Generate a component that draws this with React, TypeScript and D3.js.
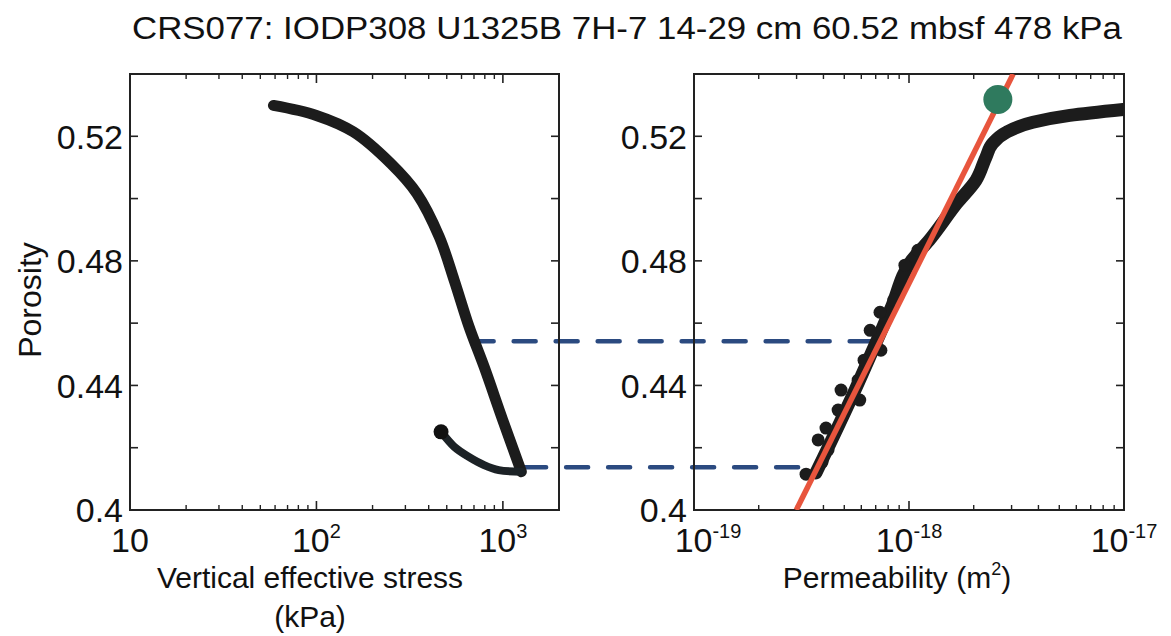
import React from "react";
import * as d3 from "d3";

// ---- data ----
const titleText = "CRS077: IODP308 U1325B 7H-7 14-29 cm 60.52 mbsf 478 kPa";

const loadingStress = [58.8, 99.9, 158, 251, 346, 456, 548, 659, 793, 998, 1256];
const loadingPorosity = [0.5299, 0.5267, 0.5214, 0.5112, 0.5016, 0.4877, 0.4738, 0.4588, 0.446, 0.4289, 0.4123];
const unloadingStress = [1256, 950, 793, 650, 548, 466];
const unloadingPorosity = [0.4123, 0.4128, 0.4144, 0.4172, 0.4203, 0.4251];

const permK = [3.69e-19, 5.61e-19, 7.1e-19, 8.25e-19, 1.03e-18, 1.24e-18, 1.67e-18, 2.05e-18, 2.28e-18, 2.45e-18, 2.84e-18, 3.77e-18, 5.6e-18, 9.9e-18];
const permPorosity = [0.4119, 0.4385, 0.4545, 0.4648, 0.4802, 0.4866, 0.4985, 0.5059, 0.5133, 0.5177, 0.5213, 0.5245, 0.5267, 0.5286];
const blobK = [3.32e-19, 3.94e-19, 3.78e-19, 4.11e-19, 4.2e-19, 4.68e-19, 4.83e-19, 5.9e-19, 5.8e-19, 6.18e-19, 7.4e-19, 6.6e-19, 7.33e-19, 8.5e-19, 9.57e-19, 1.1e-18];
const blobPorosity = [0.4115, 0.4154, 0.4225, 0.4263, 0.4193, 0.4321, 0.4385, 0.4353, 0.4417, 0.4481, 0.4513, 0.4577, 0.4635, 0.4674, 0.4786, 0.4834];

const fitK = [2.99e-19, 3.05e-18];
const fitPorosity = [0.4, 0.54];
const insituK = 2.59e-18;
const insituPorosity = 0.5318;

const guidePorosity = [0.4542, 0.4137];
const guideStress = [680, 1300];
const guideK = [6.75e-19, 3.45e-19];

const yTicks = [0.4, 0.42, 0.44, 0.46, 0.48, 0.5, 0.52, 0.54];
const yLabelTicks = [0.4, 0.44, 0.48, 0.52];
const stressMajor = [10, 100, 1000];
const stressMajorLabels = [["10", ""], ["10", "2"], ["10", "3"]];
const permMajor = [1e-19, 1e-18, 1e-17];
const permMajorLabels = [["10", "-19"], ["10", "-18"], ["10", "-17"]];

const FONT = "'Liberation Sans', Arial, Helvetica, sans-serif";

function minorTicks(lo: number, hi: number) {
  const out: number[] = [];
  for (let e = Math.floor(Math.log10(lo)); e < Math.ceil(Math.log10(hi)); e++) {
    for (let m = 2; m <= 9; m++) {
      const v = m * Math.pow(10, e);
      if (v > lo * 1.001 && v < hi * 0.999) out.push(v);
    }
  }
  return out;
}

type PanelProps = {
  x: d3.ScaleLogarithmic<number, number>;
  y: d3.ScaleLinear<number, number>;
  majors: number[];
  majorLabels: string[][];
  firstLabelDx?: number;
};

function Frame({ x, y, majors, majorLabels, firstLabelDx = 0 }: PanelProps) {
  const [x0, x1] = x.range();
  const [y0, y1] = y.range();
  const dom = x.domain();
  const minors = minorTicks(dom[0], dom[1]);
  const fmt = (v: number) => String(+v.toFixed(2));
  return (
    <g>
      <rect x={x0} y={y1} width={x1 - x0} height={y0 - y1} fill="none" stroke="#222" strokeWidth={2} />
      {yTicks.map((t) => (
        <g key={"y" + t}>
          <line x1={x0} x2={x0 + 8} y1={y(t)} y2={y(t)} stroke="#222" strokeWidth={1.6} />
          <line x1={x1} x2={x1 - 8} y1={y(t)} y2={y(t)} stroke="#222" strokeWidth={1.6} />
        </g>
      ))}
      {yLabelTicks.map((t) => (
        <text key={"yl" + t} x={x0 - 7} y={y(t)} dy="0.36em" textAnchor="end" fontSize={34} fontFamily={FONT} fill="#111">
          {fmt(t)}
        </text>
      ))}
      {majors.map((t) => (
        <g key={"xm" + t}>
          <line x1={x(t)} x2={x(t)} y1={y0} y2={y0 - 9} stroke="#222" strokeWidth={1.6} />
          <line x1={x(t)} x2={x(t)} y1={y1} y2={y1 + 9} stroke="#222" strokeWidth={1.6} />
        </g>
      ))}
      {minors.map((t) => (
        <g key={"xn" + t}>
          <line x1={x(t)} x2={x(t)} y1={y0} y2={y0 - 5} stroke="#222" strokeWidth={1.4} />
          <line x1={x(t)} x2={x(t)} y1={y1} y2={y1 + 5} stroke="#222" strokeWidth={1.4} />
        </g>
      ))}
      {majors.map((t, i) => (
        <text key={"xl" + t} x={x(t) + (i === 0 ? firstLabelDx : 0)} y={y0 + 42} textAnchor="middle" fontSize={34} fontFamily={FONT} fill="#111">
          {majorLabels[i][0]}
          {majorLabels[i][1] && (
            <tspan fontSize={20} dy={-14}>
              {majorLabels[i][1]}
            </tspan>
          )}
        </text>
      ))}
    </g>
  );
}

export default function App() {
  const W = 1171;
  const H = 636;
  const y = d3.scaleLinear().domain([0.4, 0.54]).range([510, 74]);
  const xL = d3.scaleLog().domain([10, 2000]).range([130, 559]);
  const xR = d3.scaleLog().domain([1e-19, 1e-17]).range([694, 1124]);

  const curve = d3.curveCatmullRom.alpha(0.5);
  const lineL = d3.line<number>().x((_, i) => xL(loadingStress[i])).y((d) => y(d)).curve(curve);
  const lineU = d3.line<number>().x((_, i) => xL(unloadingStress[i])).y((d) => y(d)).curve(curve);
  const lineR = d3.line<number>().x((_, i) => xR(permK[i])).y((d) => y(d)).curve(d3.curveMonotoneY);

  return (
    <svg width={W} height={H} style={{ position: "absolute", left: 0, top: 0, background: "#fff" }}>
      <defs>
        <clipPath id="clipR">
          <rect x={694} y={74} width={430} height={436} />
        </clipPath>
      </defs>
      <rect width={W} height={H} fill="#fff" />
      <text x={627} y={39} textAnchor="middle" fontSize={31} fontFamily={FONT} fill="#111" textLength={990} lengthAdjust="spacingAndGlyphs">
        {titleText}
      </text>

      {/* dashed guides */}
      {guidePorosity.map((p, i) => (
        <line
          key={"g" + i}
          x1={xL(guideStress[i])}
          x2={xR(guideK[i])}
          y1={y(p)}
          y2={y(p)}
          stroke="#2b4a80"
          strokeWidth={4.5}
          strokeDasharray="22 20"
          strokeLinecap="round"
        />
      ))}

      <Frame x={xL} y={y} majors={stressMajor} majorLabels={stressMajorLabels} />
      <Frame x={xR} y={y} majors={permMajor} majorLabels={permMajorLabels} firstLabelDx={14} />

      {/* left panel data */}
      <path d={lineL(loadingPorosity) || ""} fill="none" stroke="#1c1c1c" strokeWidth={11} strokeLinecap="round" strokeLinejoin="round" />
      <path d={lineU(unloadingPorosity) || ""} fill="none" stroke="#1c2226" strokeWidth={8} strokeLinecap="round" strokeLinejoin="round" />
      <circle cx={xL(unloadingStress[unloadingStress.length - 1])} cy={y(unloadingPorosity[unloadingPorosity.length - 1])} r={7.5} fill="#111" />

      {/* right panel data */}
      <g clipPath="url(#clipR)">
        <path d={lineR(permPorosity) || ""} fill="none" stroke="#1c1c1c" strokeWidth={13} strokeLinecap="round" strokeLinejoin="round" />
        {blobK.map((k, i) => (
          <circle key={"b" + i} cx={xR(k)} cy={y(blobPorosity[i])} r={6.5} fill="#1c1c1c" />
        ))}
        <line x1={xR(fitK[0])} x2={xR(fitK[1])} y1={y(fitPorosity[0])} y2={y(fitPorosity[1])} stroke="#e8553d" strokeWidth={5.5} />
      </g>
      <circle cx={xR(insituK)} cy={y(insituPorosity)} r={14.5} fill="#2f7a5e" />

      {/* axis titles */}
      <text transform={`translate(41,300) rotate(-90)`} textAnchor="middle" fontSize={32} fontFamily={FONT} fill="#111">
        Porosity
      </text>
      <text x={310} y={588} textAnchor="middle" fontSize={30} fontFamily={FONT} fill="#111">
        Vertical effective stress
      </text>
      <text x={310} y={627} textAnchor="middle" fontSize={30} fontFamily={FONT} fill="#111">
        (kPa)
      </text>
      <text x={897} y={588} textAnchor="middle" fontSize={30} fontFamily={FONT} fill="#111">
        Permeability (m
        <tspan fontSize={18} dy={-13}>2</tspan>
        <tspan dy={13}>)</tspan>
      </text>
    </svg>
  );
}
